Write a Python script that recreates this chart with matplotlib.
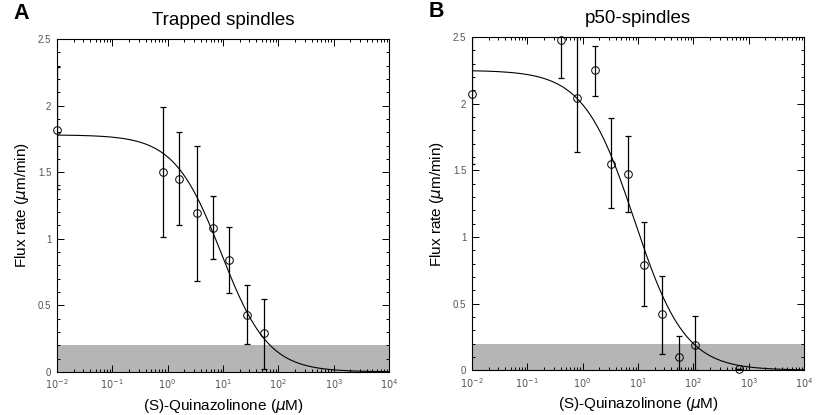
import numpy as np
import matplotlib
matplotlib.use("Agg")
import matplotlib.pyplot as plt
from matplotlib.ticker import LogLocator, MultipleLocator, NullFormatter

plt.rcParams['font.family'] = ['Liberation Sans', 'DejaVu Sans']

# panel A - trapped spindles
a_conc = [0.01, 0.81, 1.62, 3.4, 6.6, 13, 27, 54]
a_rate = [1.82, 1.50, 1.45, 1.19, 1.08, 0.84, 0.43, 0.29]
a_hi = [2.29, 1.99, 1.80, 1.70, 1.32, 1.09, 0.65, 0.55]
a_lo = [1.37, 1.01, 1.10, 0.68, 0.85, 0.59, 0.21, 0.02]
a_fit = (1.78, 9.3, 1.02)   # top, IC50, hill slope

# panel B - p50 spindles
b_conc = [0.01, 0.40, 0.79, 1.67, 3.2, 6.6, 13, 27, 54, 107, 680]
b_rate = [2.07, 2.48, 2.04, 2.25, 1.55, 1.47, 0.79, 0.42, 0.10, 0.19, 0.01]
b_hi = [2.59, 2.75, 2.70, 2.43, 1.89, 1.76, 1.11, 0.71, 0.26, 0.41, 0.01]
b_lo = [1.55, 2.19, 1.64, 2.06, 1.22, 1.19, 0.48, 0.12, 0.0, 0.0, 0.01]
b_fit = (2.25, 8.6, 0.95)

band = 0.2
xticks = [1e-2, 1e-1, 1e0, 1e1, 1e2, 1e3, 1e4]
xticklabels = ['$10^{-2}$', '$10^{-1}$', '$10^{0}$', '$10^{1}$', '$10^{2}$', '$10^{3}$', '$10^{4}$']
yticks = [0, 0.5, 1, 1.5, 2, 2.5]
yticklabels = ['0', '0.5', '1', '1.5', '2', '2.5']

def panel(ax, conc, rate, hi, lo, fit, title, letter):
    conc = np.array(conc); rate = np.array(rate)
    err = [rate - np.array(lo), np.array(hi) - rate]
    ax.axhspan(0, band, color='#b5b5b5', lw=0, zorder=0)
    top, ic, n = fit
    xs = np.logspace(-2, 4, 400)
    ax.plot(xs, top / (1 + (xs / ic) ** n), color='black', lw=0.8, zorder=2)
    ax.errorbar(conc, rate, yerr=err, fmt='none', ecolor='black', elinewidth=0.9,
                capsize=2, capthick=0.9, zorder=3)
    ax.plot(conc, rate, 'o', mfc='none', mec='black', ms=5.5, mew=0.7, zorder=4, clip_on=False)
    ax.set_xscale('log')
    ax.set_xlim(0.01, 1e4)
    ax.set_ylim(0, 2.5)
    ax.set_xticks(xticks)
    ax.set_xticklabels(xticklabels)
    ax.xaxis.set_minor_locator(LogLocator(base=10, subs=np.arange(2, 10), numticks=10))
    ax.xaxis.set_minor_formatter(NullFormatter())
    ax.set_yticks(yticks)
    ax.set_yticklabels(yticklabels)
    ax.yaxis.set_minor_locator(MultipleLocator(0.1))
    ax.tick_params(which='both', direction='in', top=True, right=True, labelsize=7,
                   labelcolor='#555555', width=0.7)
    ax.tick_params(which='major', length=5, pad=4)
    ax.tick_params(which='minor', length=2.5)
    for s in ax.spines.values():
        s.set_linewidth(0.8)
    ax.set_title(title, fontsize=13.5, pad=10)
    ax.set_xlabel('(S)-Quinazolinone ($\\mu$M)', fontsize=11, labelpad=4)
    ax.set_ylabel('Flux rate ($\\mu$m/min)', fontsize=11, labelpad=5)
    ax.text(-0.13, 1.06, letter, transform=ax.transAxes, fontsize=15.5, fontweight='bold')

fig = plt.figure(figsize=(8.2, 4.15), dpi=100)
ax1 = fig.add_axes([0.0695, 0.104, 0.405, 0.802])
ax2 = fig.add_axes([0.5756, 0.108, 0.405, 0.803])
panel(ax1, a_conc, a_rate, a_hi, a_lo, a_fit, 'Trapped spindles', 'A')
panel(ax2, b_conc, b_rate, b_hi, b_lo, b_fit, 'p50-spindles', 'B')

fig.savefig('out.png', dpi=100)
